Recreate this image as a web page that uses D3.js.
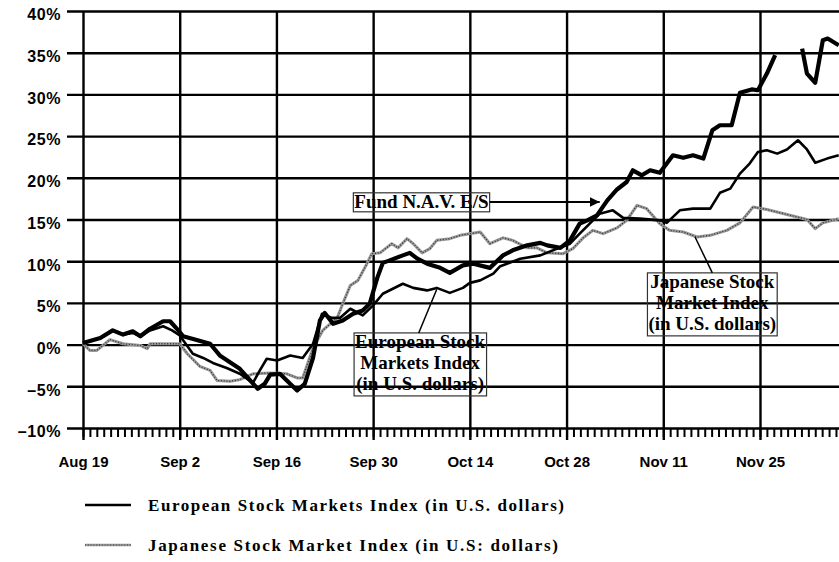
<!DOCTYPE html>
<meta charset="utf-8">
<head>
<style>
  body { margin: 0; background: #fff; }
  .grid line { stroke: #000; stroke-width: 2.4; }
  .ylab text { font-family: "Liberation Sans", Arial, sans-serif; font-weight: bold; font-size: 16px; letter-spacing: 0.6px; }
  .xlab text { font-family: "Liberation Sans", Arial, sans-serif; font-weight: bold; font-size: 15px; }
  .note { font-family: "Liberation Serif", "Times New Roman", serif; font-weight: bold; font-size: 19px; }
  .legend text { font-family: "Liberation Serif", "Times New Roman", serif; font-weight: bold; font-size: 17px; }
</style>
</head>
<body>
<svg id="chart"></svg>
<script src="https://cdn.jsdelivr.net/npm/d3@7"></script>
<script>

// days after Aug 19, value in %
var fundDays = [0,2.5,4.3,5.8,7.2,8.3,9.7,11.6,12.6,13.8,14.5,16.2,18.4,19.8,22.7,25.3,26.3,27.1,28.5,29.5,31,32.1,33.3,34.3,35,36.2,37.6,39.1,40.5,41.5,42.6,43.4,44.4,46.3,47.3,48.4,49.8,51.7,53.1,55,56.5,58.9,60.8,62.2,64.3,66.2,67.2,69.1,70.5,71.9,73,74.4,75.9,77.3,78.7,79.6,80.9,82.1,83.5,85.4,86.9,88.3,89.8,91.1,92.2,93.9,95.1,96.8,97.7,99,100.2,102,104.1,104.8,106,107.1,107.8,109.4];
var fundValues = [0.2,0.8,1.7,1.2,1.6,1.0,1.9,2.8,2.8,1.7,1.0,0.6,0.1,-1.3,-2.9,-5.3,-4.7,-3.6,-3.5,-4.3,-5.5,-4.7,-1.6,2.9,3.8,2.5,2.9,3.7,4.1,4.9,8.0,9.8,10.1,10.7,11.0,10.3,9.7,9.2,8.6,9.5,9.7,9.2,10.7,11.3,11.9,12.2,11.9,11.6,12.5,14.5,14.9,15.5,17.3,18.6,19.5,20.9,20.3,20.9,20.6,22.7,22.4,22.7,22.3,25.7,26.3,26.3,30.2,30.6,30.5,32.5,34.7,null,35.5,32.5,31.4,36.5,36.7,35.9];

var euroDays = [0,2.5,4.3,5.8,7.2,8.3,9.7,11.6,12.9,14,15.9,17.4,18.8,20.8,22.7,24.6,25.6,26.6,28.1,30,31.8,33.3,34.6,36,37.2,38.7,40.5,42,43.4,46.3,47.8,49.8,51.2,53.1,55,56,57.5,59.4,60.4,63.3,66.2,68,70.5,71.9,74.8,76.7,78.2,80.6,83.5,84.5,86.4,88.3,90.8,92.2,93.7,95.1,96.5,97.7,99,100.5,101.9,103.5,104.8,106,107.7,109.4];
var euroValues = [0.2,0.8,1.7,1.2,1.4,1.0,1.7,2.2,1.7,1.1,-1.1,-1.6,-2.2,-2.8,-3.5,-4.6,-3.1,-1.7,-1.9,-1.3,-1.6,0.1,3.7,3.2,3.2,4.3,3.5,4.7,6.1,7.3,6.8,6.5,6.8,6.2,6.8,7.4,7.7,8.5,9.4,10.3,10.7,11.3,12.1,13.3,15.7,16.1,15.2,15.1,14.9,14.6,16.1,16.3,16.3,18.2,18.7,20.5,21.7,23.1,23.3,22.9,23.4,24.5,23.4,21.8,22.3,22.7];

var japanDays = [0,1,2,3.9,5.8,8.3,9.3,9.7,13,14,15.1,16.9,18.4,19.4,21.3,22.7,24.6,27.1,29.5,31,31.8,33.3,34.7,36.8,37.6,38.7,39.8,41.1,41.8,43,44.7,45.6,46.9,47.8,49.1,50.2,51.2,53.1,54.6,57.5,58.9,60.8,62.2,64.3,65.7,67.2,69.5,70.9,72.4,73.8,75.3,77.3,78.7,80.2,81.6,83.5,84.9,86.9,88.9,90.8,93.2,95.1,97,99,101.9,104.8,106,107.1,109.4];
var japanValues = [0.1,-0.7,-0.7,0.6,0.1,-0.1,-0.5,0.1,0.1,0.1,-1.1,-2.6,-3.1,-4.3,-4.4,-4.2,-3.5,-3.4,-3.5,-4.0,-4.0,-0.4,1.7,3.2,4.9,7.1,7.7,9.7,10.9,11.0,12.1,11.6,12.7,12.1,11.0,11.5,12.5,12.7,13.1,13.5,12.1,12.8,12.5,11.6,11.6,11.0,10.9,11.5,12.8,13.7,13.3,14.0,14.9,16.7,16.3,14.5,13.7,13.5,12.9,13.1,13.7,14.6,16.5,16.2,15.6,15.0,13.9,14.6,15.1];

var yTicks = [-10,-5,0,5,10,15,20,25,30,35,40];
var yTickLabels = ["\u201310%","\u20135%","0%","5%","10%","15%","20%","25%","30%","35%","40%"];
var xTickDays = [0,14,28,42,56,70,84,98,112];
// the Dec 9 gridline falls past the right edge, so it has no label
var xTickLabels = ["Aug 19","Sep 2","Sep 16","Sep 30","Oct 14","Oct 28","Nov 11","Nov 25",""];

var legendNames = ["European Stock Markets Index (in U.S. dollars)", "Japanese Stock Market Index (in U.S: dollars)"];

var W = 839, H = 562;
var plotLeft = 83, plotTop = 11, plotBottom = 428;
var dayPx = 6.908;
var start = Date.UTC(1991, 7, 19);
function toDate(d) { return new Date(start + d * 864e5); }

var x = d3.scaleUtc()
    .domain([toDate(0), toDate(112)])
    .range([plotLeft, plotLeft + 112 * dayPx]);
var y = d3.scaleLinear()
    .domain([-10, 40])
    .range([plotBottom, plotTop]);

var svg = d3.select("#chart").attr("width", W).attr("height", H);

// horizontal grid + y labels
svg.append("g")
    .attr("class", "grid ylab")
    .attr("transform", "translate(" + W + ",0)")
    .call(d3.axisLeft(y).tickValues(yTicks).tickSize(W - 67).tickPadding(6)
      .tickFormat(function(d, i) { return yTickLabels[i]; }))
    .call(function(g) { g.select(".domain").remove(); })
    .selectAll("text").attr("dy", "0.55em");

// daily minor ticks
svg.append("g")
    .attr("class", "grid")
    .attr("transform", "translate(0," + plotBottom + ")")
    .call(d3.axisBottom(x).ticks(d3.utcDay.every(1)).tickSize(9).tickFormat(""))
    .call(function(g) { g.select(".domain").remove(); })
    .selectAll("line").style("stroke-width", 2);

// vertical grid + x labels
svg.append("g")
    .attr("class", "grid xlab")
    .attr("transform", "translate(0," + plotTop + ")")
    .call(d3.axisBottom(x).tickValues(xTickDays.map(toDate)).tickSize(plotBottom - plotTop + 12).tickPadding(16)
      .tickFormat(function(d, i) { return xTickLabels[i]; }))
    .call(function(g) { g.select(".domain").remove(); });

function series(days, vals) {
  return days.map(function(d, i) { return {date: toDate(d), value: vals[i]}; });
}

var line = d3.line()
    .defined(function(d) { return d.value != null; })
    .x(function(d) { return x(d.date); })
    .y(function(d) { return y(d.value); });

var japan = series(japanDays, japanValues);
svg.append("path").datum(japan)
    .attr("d", line).attr("fill", "none")
    .attr("stroke", "#9a9a9a").attr("stroke-width", 3).attr("stroke-linejoin", "round");
svg.append("path").datum(japan)
    .attr("d", line).attr("fill", "none")
    .attr("stroke", "#333").attr("stroke-width", 1.3).attr("stroke-dasharray", "1 1.8");

svg.append("path").datum(series(euroDays, euroValues))
    .attr("d", line).attr("fill", "none")
    .attr("stroke", "#000").attr("stroke-width", 2.6).attr("stroke-linejoin", "round");

svg.append("path").datum(series(fundDays, fundValues))
    .attr("d", line).attr("fill", "none")
    .attr("stroke", "#000").attr("stroke-width", 4.2).attr("stroke-linejoin", "round");

// annotations (boxes have no fill: the grid shows through, as in the print)
function box(lines, cx, ty, lineH) {
  var g = svg.append("g");
  var t = g.append("text").attr("class", "note").attr("text-anchor", "middle");
  lines.forEach(function(s, i) {
    t.append("tspan").attr("x", cx).attr("y", ty + 15 + i * lineH).text(s);
  });
  var b = t.node().getBBox();
  g.insert("rect", "text")
    .attr("x", b.x - 1).attr("y", ty).attr("width", b.width + 2).attr("height", lines.length * lineH)
    .attr("fill", "none").attr("stroke", "#333").attr("stroke-width", 1.2);
  return {x: b.x - 1, w: b.width + 2};
}

var fb = box(["Fund N.A.V. E/S"], x(toDate(49)), y(18.2), 19);
svg.append("defs").append("marker")
    .attr("id", "arr").attr("viewBox", "0 0 10 10").attr("refX", 10).attr("refY", 5)
    .attr("markerWidth", 5).attr("markerHeight", 5).attr("orient", "auto")
  .append("path").attr("d", "M0,0L10,5L0,10z").attr("fill", "#000");
svg.append("line")
    .attr("x1", fb.x + fb.w).attr("y1", y(17.1)).attr("x2", x(toDate(74.8))).attr("y2", y(17.1))
    .attr("stroke", "#000").attr("stroke-width", 2).attr("marker-end", "url(#arr)");

box(["European Stock", "Markets Index", "(in U.S. dollars)"], x(toDate(48.8)), y(1.4), 21);
svg.append("line")
    .attr("x1", x(toDate(48.6))).attr("y1", y(1.4)).attr("x2", x(toDate(51.2))).attr("y2", y(6.6))
    .attr("stroke", "#000").attr("stroke-width", 1.5);

box(["Japanese Stock", "Market Index", "(in U.S. dollars)"], x(toDate(91.1)), y(8.6), 21);
svg.append("line")
    .attr("x1", x(toDate(91.1))).attr("y1", y(8.6)).attr("x2", x(toDate(88.6))).attr("y2", y(12.9))
    .attr("stroke", "#000").attr("stroke-width", 1.5);

// legend
var lg = svg.append("g").attr("class", "legend");
[505, 545].forEach(function(ly, i) {
  if (i == 0) {
    lg.append("line").attr("x1", 85).attr("x2", 131).attr("y1", ly).attr("y2", ly)
      .attr("stroke", "#000").attr("stroke-width", 2.4);
  } else {
    lg.append("line").attr("x1", 85).attr("x2", 131).attr("y1", ly).attr("y2", ly)
      .attr("stroke", "#9a9a9a").attr("stroke-width", 2.6);
    lg.append("line").attr("x1", 85).attr("x2", 131).attr("y1", ly).attr("y2", ly)
      .attr("stroke", "#333").attr("stroke-width", 1.2).attr("stroke-dasharray", "1 1.8");
  }
  lg.append("text").attr("x", 148).attr("y", ly + 6)
    .attr("textLength", i == 0 ? 416 : 410).attr("lengthAdjust", "spacing")
    .text(legendNames[i]);
});

</script>
</body>
